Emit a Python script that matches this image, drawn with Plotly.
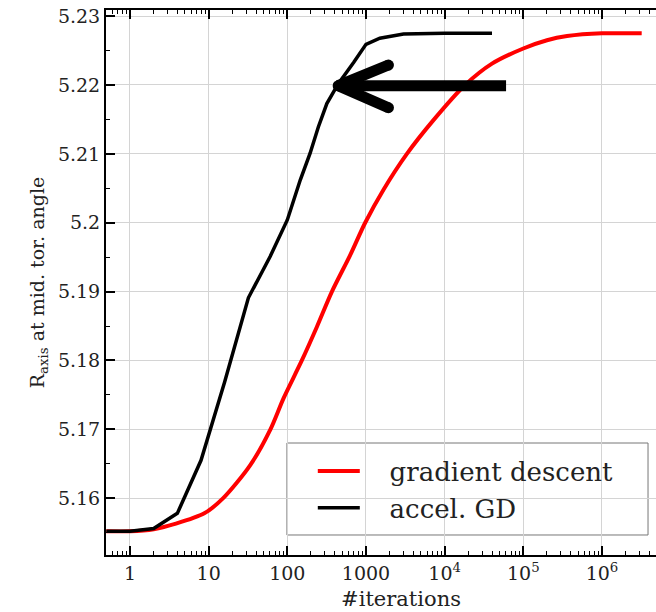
import plotly.graph_objects as go

# ---- data ----
gd_iter = [0.5, 1, 2, 3.84, 8.8, 15.3, 33.8, 61, 89.5, 153, 238, 369, 630, 977, 1670,
           3310, 7210, 18200, 40000, 100000, 200000, 360000, 1000000, 3200000]
gd_r = [5.1552, 5.1552, 5.1555, 5.1563, 5.1578, 5.1600, 5.1648, 5.1700, 5.1745, 5.1800,
        5.1849, 5.1900, 5.1953, 5.2000, 5.2048, 5.2100, 5.2149, 5.2200, 5.2231, 5.2253,
        5.2265, 5.2271, 5.2275, 5.2275]

agd_iter = [0.5, 1, 2, 4, 8, 16, 32, 60.5, 100, 146, 195, 248, 318, 445, 700, 1000,
            1500, 3000, 10000, 40000]
agd_r = [5.1552, 5.1552, 5.1556, 5.1578, 5.1655, 5.1769, 5.1891, 5.1951, 5.2004, 5.2062,
         5.2101, 5.2139, 5.2173, 5.2202, 5.2233, 5.2259, 5.2268, 5.2274, 5.2275, 5.2275]

# arrow annotation (data coordinates)
arrow_bar_x = [60400, 443]
arrow_bar_y = [5.2199, 5.2199]
arrow_head_x = [1930, 443, 1930]
arrow_head_y = [5.2229, 5.2199, 5.2167]

x_tickvals = [1, 10, 100, 1000, 1e4, 1e5, 1e6]
x_ticktext = ["1", "10", "100", "1000", "10<sup>4</sup>", "10<sup>5</sup>", "10<sup>6</sup>"]
y_tickvals = [5.16, 5.17, 5.18, 5.19, 5.20, 5.21, 5.22, 5.23]
y_ticktext = ["5.16", "5.17", "5.18", "5.19", "5.2", "5.21", "5.22", "5.23"]

FONT = "DejaVu Serif"
NB = "\u00a0"
ZW = "\u200b"

fig = go.Figure()
fig.add_trace(go.Scatter(x=gd_iter, y=gd_r, mode="lines", name=NB * 3 + "gradient descent",
                         line=dict(color="#ff0000", width=4, shape="spline", smoothing=0.8)))
fig.add_trace(go.Scatter(x=agd_iter, y=agd_r, mode="lines", name=NB * 3 + "accel. GD",
                         line=dict(color="black", width=3.5)))
fig.add_trace(go.Scatter(x=arrow_bar_x, y=arrow_bar_y, mode="lines", showlegend=False,
                         hoverinfo="skip", line=dict(color="black", width=11)))
fig.add_trace(go.Scatter(x=arrow_head_x, y=arrow_head_y, mode="lines+markers", showlegend=False,
                         hoverinfo="skip", line=dict(color="black", width=11),
                         marker=dict(color="black", size=11)))

# legend box
fig.add_shape(type="rect", xref="x domain", yref="y domain",
              x0=0.329, x1=0.9855, y0=0.0367, y1=0.2055,
              line=dict(color="#777777", width=1), fillcolor="white", layer="below")

fig.update_layout(
    width=656, height=612,
    margin=dict(l=106, r=0, t=10, b=57),
    paper_bgcolor="white", plot_bgcolor="white",
    font=dict(family=FONT, color="#222222", size=19),
    showlegend=True,
    legend=dict(x=0.376, y=0.197, xanchor="left", yanchor="top",
                bgcolor="rgba(0,0,0,0)", borderwidth=0,
                font=dict(family=FONT, size=26, color="#222222"),
                itemwidth=42),
)
fig.update_xaxes(
    type="log", range=[-0.305, 6.687],
    tickvals=x_tickvals, ticktext=x_ticktext,
    ticks="inside", ticklen=9, tickwidth=2, tickcolor="black",
    showline=True, linecolor="black", linewidth=2, mirror="ticks",
    showgrid=True, gridcolor="#d4d4d4", gridwidth=1, zeroline=False,
    minor=dict(ticks="inside", ticklen=4, tickwidth=1, tickcolor="black", dtick="D1", showgrid=False),
    title=dict(text=ZW + NB * 6 + "#iterations", font=dict(family=FONT, size=21, color="#222222"), standoff=9),
    tickfont=dict(family=FONT, size=19, color="#222222"),
)
fig.update_yaxes(
    range=[5.15175, 5.23089],
    tickvals=y_tickvals, ticktext=y_ticktext,
    ticks="inside", ticklen=9, tickwidth=2, tickcolor="black",
    showline=True, linecolor="black", linewidth=2,
    showgrid=True, gridcolor="#d4d4d4", gridwidth=1, zeroline=False,
    minor=dict(ticks="inside", ticklen=4, tickwidth=1, tickcolor="black", dtick=0.005, showgrid=False),
    title=dict(text="R<sub>axis</sub> at mid. tor. angle", font=dict(family=FONT, size=19, color="#222222"), standoff=8),
    tickfont=dict(family=FONT, size=19, color="#222222"),
)

fig.write_html("out.html")
